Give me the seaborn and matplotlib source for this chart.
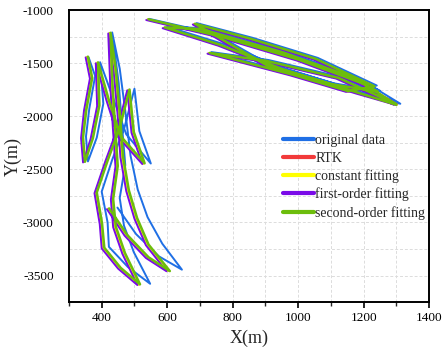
import pandas as pd
import matplotlib.pyplot as plt
import seaborn as sns
from matplotlib.lines import Line2D
from matplotlib.ticker import MultipleLocator

# trajectories: left (south) block and right (north-east) block
rtk_left = [(355, -1440), (368, -1640), (350, -1940), (340, -2200), (346, -2430),
            (370, -2210), (390, -1900), (386, -1495), (418, -1840), (455, -2190),
            (528, -2445), (495, -2150), (482, -1750), (452, -2110), (415, -2420),
            (382, -2720), (398, -3010), (405, -3240), (455, -3430), (514, -3585),
            (468, -3290), (440, -3040), (432, -2780), (446, -2470), (438, -2100),
            (430, -1700), (424, -1215), (440, -1560), (452, -1960), (462, -2380),
            (480, -2700), (505, -2960), (540, -3210), (603, -3455), (540, -3330),
            (475, -3120), (420, -2870)]
rtk_right = [(540, -1088), (760, -1250), (1000, -1470), (1200, -1700), (1302, -1888),
             (1180, -1780), (950, -1560), (760, -1330), (590, -1165),
             (700, -1180), (950, -1400), (1150, -1620), (1240, -1770),
             (1100, -1700), (900, -1520), (682, -1130),
             (850, -1270), (1050, -1460), (1230, -1720),
             (1150, -1765), (980, -1610), (727, -1405),
             (900, -1480), (1120, -1640), (1295, -1885)]

orig_left = [(360, -1445), (380, -1620), (362, -1930), (352, -2190), (358, -2425),
             (385, -2200), (405, -1880), (395, -1490), (435, -1830), (475, -2170),
             (550, -2445), (515, -2140), (500, -1740), (470, -2100), (432, -2410),
             (400, -2710), (418, -3000), (422, -3230), (480, -3420), (548, -3578),
             (498, -3280), (468, -3030), (455, -2770), (472, -2460), (462, -2090),
             (452, -1690), (432, -1210), (455, -1550), (472, -1950), (488, -2370),
             (510, -2690), (540, -2950), (585, -3200), (645, -3445), (575, -3320),
             (505, -3110), (448, -2860)]
orig_right = [(545, -1082), (770, -1240), (1010, -1460), (1210, -1690), (1312, -1882),
              (1190, -1770), (960, -1548), (770, -1318), (600, -1155),
              (710, -1170), (960, -1390), (1160, -1610), (1250, -1760),
              (1110, -1690), (910, -1510), (690, -1122),
              (860, -1260), (1060, -1450), (1240, -1710),
              (1160, -1755), (990, -1600), (735, -1395),
              (910, -1470), (1130, -1630), (1305, -1878)]

const_left = [(354, -1442), (367, -1642), (349, -1942), (339, -2202), (345, -2432),
              (369, -2212), (389, -1902), (385, -1497), (417, -1842), (454, -2192),
              (527, -2447), (494, -2152), (481, -1752), (451, -2112), (414, -2422),
              (381, -2722), (397, -3012), (404, -3242), (454, -3432), (513, -3587),
              (467, -3292), (439, -3042), (431, -2782), (445, -2472), (437, -2102),
              (429, -1702), (423, -1217), (439, -1562), (451, -1962), (461, -2382),
              (479, -2702), (504, -2962), (539, -3212), (602, -3457), (539, -3332),
              (474, -3122), (419, -2872)]
const_right = [(539, -1090), (759, -1252), (999, -1472), (1199, -1702), (1301, -1890),
               (1179, -1782), (949, -1562), (759, -1332), (589, -1167),
               (699, -1182), (949, -1402), (1149, -1622), (1239, -1772),
               (1099, -1702), (899, -1522), (681, -1132),
               (849, -1272), (1049, -1462), (1229, -1722),
               (1149, -1767), (979, -1612), (726, -1407),
               (899, -1482), (1119, -1642), (1294, -1887)]

first_left = [(351, -1445), (364, -1645), (346, -1945), (337, -2205), (343, -2435),
              (366, -2215), (386, -1905), (382, -1500), (414, -1845), (450, -2195),
              (524, -2450), (491, -2155), (478, -1755), (448, -2115), (411, -2425),
              (378, -2725), (394, -3015), (400, -3245), (450, -3435), (509, -3590),
              (463, -3295), (435, -3045), (428, -2785), (442, -2475), (434, -2105),
              (426, -1705), (420, -1220), (436, -1565), (448, -1965), (457, -2385),
              (475, -2705), (500, -2965), (535, -3215), (598, -3460), (535, -3335),
              (470, -3125), (416, -2875)]
first_right = [(536, -1093), (756, -1255), (996, -1475), (1196, -1705), (1298, -1893),
               (1176, -1785), (946, -1565), (756, -1335), (586, -1170),
               (696, -1185), (946, -1405), (1146, -1625), (1236, -1775),
               (1096, -1705), (896, -1525), (678, -1135),
               (846, -1275), (1046, -1465), (1226, -1725),
               (1146, -1770), (976, -1615), (723, -1410),
               (896, -1485), (1116, -1645), (1291, -1890)]

second_left = [(358, -1438), (371, -1638), (353, -1938), (343, -2198), (349, -2428),
               (373, -2208), (393, -1898), (389, -1492), (421, -1838), (458, -2188),
               (531, -2443), (498, -2148), (485, -1748), (455, -2108), (418, -2418),
               (385, -2718), (401, -3008), (408, -3238), (458, -3428), (517, -3583),
               (471, -3288), (443, -3038), (435, -2778), (449, -2468), (441, -2098),
               (433, -1698), (427, -1213), (443, -1558), (455, -1958), (465, -2378),
               (483, -2698), (508, -2958), (543, -3208), (608, -3458), (543, -3328),
               (478, -3118), (423, -2868)]
second_right = [(543, -1086), (763, -1248), (1003, -1468), (1203, -1698), (1300, -1892),
                (1183, -1778), (953, -1558), (763, -1328), (593, -1163),
                (703, -1178), (953, -1398), (1153, -1618), (1243, -1768),
                (1103, -1698), (903, -1518), (685, -1128),
                (853, -1268), (1053, -1458), (1233, -1718),
                (1153, -1763), (983, -1608), (730, -1403),
                (903, -1478), (1123, -1638), (1298, -1883)]

series_names = ['original data', 'RTK', 'constant fitting', 'first-order fitting', 'second-order fitting']
series_data = [(orig_left, orig_right), (rtk_left, rtk_right), (const_left, const_right),
               (first_left, first_right), (second_left, second_right)]
colors = ['#1f6fe5', '#f23a3a', '#ffff00', '#7a0ae8', '#6cbd0c']
widths = [1.4, 1.4, 1.4, 1.4, 1.8]

rows = []
for name, (left, right) in zip(series_names, series_data):
    for seg, pts in (('left', left), ('right', right)):
        for k, (x, y) in enumerate(pts):
            rows.append({'series': name, 'seg': seg, 'k': k, 'x': x, 'y': y})
df = pd.DataFrame(rows)

sns.set_theme(style="white")
plt.rcParams['font.family'] = ['Liberation Serif', 'DejaVu Serif']
plt.rcParams['axes.unicode_minus'] = False

fig = plt.figure(figsize=(4.42, 3.5), dpi=100)
ax = fig.add_axes([0.156, 0.137, 0.815, 0.834])

for name, c, lw in zip(series_names, colors, widths):
    sub = df[df['series'] == name]
    sns.lineplot(data=sub, x='x', y='y', units='seg', estimator=None, sort=False,
                 color=c, linewidth=lw, ax=ax, legend=False)

ax.set_xlim(300, 1400)
ax.set_ylim(-3750, -1000)
ax.xaxis.set_major_locator(MultipleLocator(200))
ax.xaxis.set_minor_locator(MultipleLocator(100))
ax.yaxis.set_major_locator(MultipleLocator(500))
ax.yaxis.set_minor_locator(MultipleLocator(250))
ax.grid(True, which='both', color='#dcdcdc', linestyle=(0, (3, 2)), linewidth=0.7)
ax.set_axisbelow(True)
for s in ax.spines.values():
    s.set_color('black')
    s.set_linewidth(1.4)
ax.tick_params(axis='x', which='major', direction='out', length=4, width=1.2, labelsize=9.5,
               bottom=True, colors='black')
ax.tick_params(axis='x', which='minor', direction='out', length=3, width=1.0, bottom=True)
ax.tick_params(axis='y', which='both', left=False, labelsize=9.5, colors='black', pad=5)
ax.set_xlabel('X(m)', fontsize=13, labelpad=4)
ax.set_ylabel('Y(m)', fontsize=13)
ax.yaxis.set_label_coords(-0.13, 0.5)

handles = [Line2D([0], [0], color=c, linewidth=3) for c in colors]
ax.legend(handles, series_names, loc='upper left', bbox_to_anchor=(0.58, 0.595),
          frameon=False, fontsize=10, handlelength=2.2, handletextpad=0.1,
          labelspacing=0.33, borderaxespad=0)

fig.savefig('out.png', dpi=100)
